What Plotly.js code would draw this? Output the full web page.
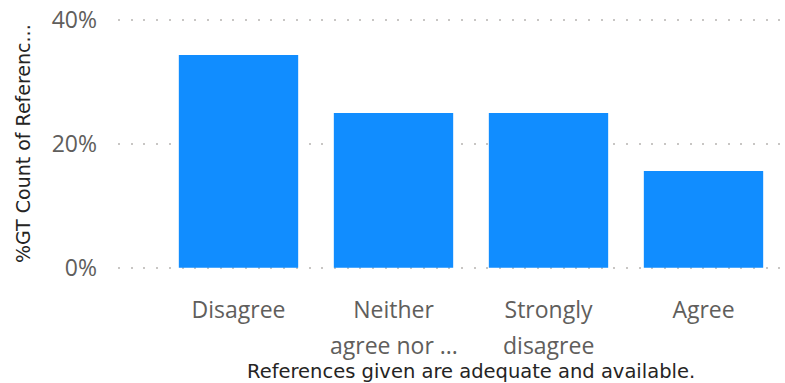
<!DOCTYPE html>
<html>
<head>
<meta charset="utf-8">
<script src="https://cdn.plot.ly/plotly-3.0.1.min.js"></script>
<style>html,body{margin:0;padding:0;background:#fff;}#chart{width:785px;height:383px;}</style>
</head>
<body>
<div id="chart"></div>
<script>
const categories = ["Disagree", "Neither agree nor disagree", "Strongly disagree", "Agree"];
const tickLine1 = ["Disagree", "Neither", "Strongly", "Agree"];
const tickLine2 = ["", "agree nor ...", "disagree", ""];
const values = [34.375, 25, 25, 15.625];
const yTickVals = [0, 20, 40];
const yTickText = ["0%", "20%", "40%"];
const xTitle = "References given are adequate and available.";
const yTitle = "%GT Count of Referenc...";

const FONT = "'Segoe UI', 'Open Sans', 'Noto Sans', sans-serif";
const TFONT = "'DejaVu Sans', sans-serif";
const W = 785, H = 383;
const plotL = 118, plotR = 781, plotT = 14, plotB = 274;
const plotW = plotR - plotL;
const plotH = plotB - plotT;
const pad = 1;

const annotations = [];
categories.forEach((c, i) => {
  if (tickLine2[i]) {
    annotations.push({
      x: c, xref: 'x', y: -(345 - plotB) / plotH, yref: 'paper',
      text: tickLine2[i], showarrow: false, xanchor: 'center', yanchor: 'middle',
      font: {family: FONT, size: 23, color: '#605E5C'}
    });
  }
});
annotations.push({
  x: 1.5, xref: 'x', y: -(371 - plotB) / plotH, yref: 'paper',
  text: xTitle, showarrow: false, xanchor: 'center', yanchor: 'middle',
  font: {family: TFONT, size: 19.5, color: '#252423'}
});
annotations.push({
  x: (23 - plotL) / plotW, xref: 'paper', y: (plotB - 144) / plotH, yref: 'paper',
  text: yTitle, textangle: -90, showarrow: false, xanchor: 'center', yanchor: 'middle',
  font: {family: TFONT, size: 19, color: '#252423'}
});

const data = [{
  type: 'bar',
  x: categories,
  y: values,
  marker: {color: '#118DFF'},
  hoverinfo: 'none'
}];

const layout = {
  width: W, height: H,
  margin: {l: plotL, r: W - plotR, t: plotT, b: H - plotB},
  paper_bgcolor: '#ffffff', plot_bgcolor: '#ffffff',
  showlegend: false,
  bargap: 0.23,
  xaxis: {
    type: 'category',
    range: [-0.5 - 43 / 155, 3.5],
    tickvals: categories,
    ticktext: tickLine1,
    tickfont: {family: FONT, size: 23, color: '#605E5C'},
    ticklabelstandoff: 20,
    showgrid: false, zeroline: false, showline: false, ticks: ''
  },
  yaxis: {
    range: [-pad, 40 + pad],
    tickvals: yTickVals,
    ticktext: yTickText,
    tickfont: {family: FONT, size: 23, color: '#605E5C'},
    ticklabelstandoff: 20,
    showgrid: true, gridcolor: '#C8C6C4', gridwidth: 2, griddash: '2px,10.7px',
    zeroline: false, showline: false, ticks: ''
  },
  annotations: annotations
};

Plotly.newPlot('chart', data, layout, {displayModeBar: false, staticPlot: true});
</script>
</body>
</html>
